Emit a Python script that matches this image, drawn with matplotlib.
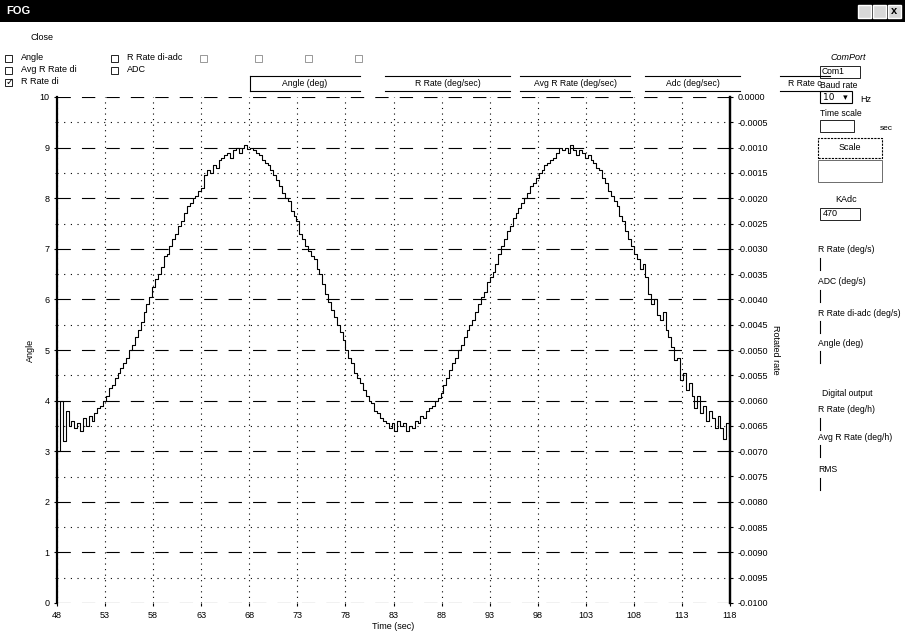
#!/usr/bin/env python3
"""
FOG angle trace - recreated screenshot of the acquisition window
"""
import numpy as np
import matplotlib
matplotlib.use("Agg")
import matplotlib.pyplot as plt
from matplotlib.patches import Rectangle

plt.rcParams['font.family'] = ['Liberation Sans', 'DejaVu Sans']

W, H = 905, 636

# Angle samples (deg), one every 0.3 s starting at t = 48 s
angle = [
    3.0, 4.0, 3.2, 3.8, 3.5, 3.6,
    3.45, 3.55, 3.4, 3.65, 3.5, 3.7, 3.6, 3.75, 3.85, 3.9,
    4.0, 4.1, 4.25, 4.3, 4.45, 4.55, 4.65, 4.75, 4.85, 5.0,
    5.1, 5.25, 5.4, 5.55, 5.75, 5.9, 6.05, 6.25, 6.4, 6.5,
    6.65, 6.85, 6.9, 7.05, 7.2, 7.3, 7.45, 7.55, 7.7, 7.85,
    7.9, 8.0, 8.05, 8.15, 8.2, 8.45, 8.55, 8.5, 8.65, 8.6,
    8.75, 8.8, 8.85, 8.9, 8.8, 8.95, 9.0, 8.9, 9.0, 9.05,
    8.98, 9.0, 8.95, 8.9, 8.85, 8.75, 8.7, 8.65, 8.55, 8.45,
    8.35, 8.25, 8.1, 8.0, 7.95, 7.75, 7.65, 7.55, 7.3, 7.2,
    7.05, 6.95, 6.85, 6.8, 6.6, 6.5, 6.3, 6.1, 5.95, 5.8,
    5.65, 5.5, 5.35, 5.2, 5.0, 4.85, 4.75, 4.55, 4.45, 4.35,
    4.2, 4.1, 4.0, 3.95, 3.8, 3.75, 3.65, 3.6, 3.55, 3.45,
    3.55, 3.4, 3.6, 3.5, 3.55, 3.4, 3.5, 3.45, 3.6, 3.55,
    3.7, 3.65, 3.8, 3.85, 3.9, 4.0, 4.05, 4.15, 4.3, 4.45,
    4.6, 4.75, 4.85, 5.0, 5.1, 5.25, 5.4, 5.5, 5.6, 5.75,
    5.9, 6.05, 6.15, 6.35, 6.45, 6.55, 6.7, 6.9, 7.05, 7.2,
    7.35, 7.45, 7.6, 7.7, 7.8, 7.9, 8.0, 8.1, 8.25, 8.3,
    8.4, 8.5, 8.55, 8.65, 8.7, 8.75, 8.8, 8.9, 9.0, 8.95,
    9.0, 8.9, 9.05, 8.95, 8.85, 8.95, 8.9, 8.8, 8.85, 8.75,
    8.7, 8.6, 8.55, 8.4, 8.3, 8.15, 8.05, 7.95, 7.85, 7.65,
    7.55, 7.35, 7.2, 7.05, 6.9, 6.8, 6.6, 6.7, 6.45, 6.1,
    5.9, 6.0, 5.7, 5.6, 5.75, 5.4, 5.25, 5.05, 4.8, 4.85,
    4.4, 4.55, 4.2, 4.35, 4.1, 3.85, 4.1, 3.75, 3.9, 3.6,
    3.8, 3.65, 3.45, 3.7, 3.45, 3.25, 3.55, 3.3,
]
t_start, t_step = 48.0, 0.3

x_ticks = [48, 53, 58, 63, 68, 73, 78, 83, 88, 93, 98, 103, 108, 113, 118]
angle_ticks = [0, 1, 2, 3, 4, 5, 6, 7, 8, 9, 10]
rate_ticks = [0.0, -0.0005, -0.0010, -0.0015, -0.0020, -0.0025, -0.0030,
              -0.0035, -0.0040, -0.0045, -0.0050, -0.0055, -0.0060, -0.0065,
              -0.0070, -0.0075, -0.0080, -0.0085, -0.0090, -0.0095, -0.0100]

check_labels = ["Angle", "R Rate di-adc", "Avg R Rate di", "ADC", "R Rate di"]
legend_labels = ["Angle (deg)", "R Rate (deg/sec)", "Avg R Rate (deg/sec)",
                 "Adc (deg/sec)", "R Rate c"]
panel_labels = ["R Rate (deg/s)", "ADC (deg/s)", "R Rate di-adc (deg/s)", "Angle (deg)"]
digital_labels = ["R Rate (deg/h)", "Avg R Rate (deg/h)", "RMS"]


def fx(x):
    return x / W


def fy(y):
    return 1 - y / H


fig = plt.figure(figsize=(W / 100, H / 100), dpi=100)
fig.patch.set_facecolor('white')

# --- title bar ---
fig.patches.append(Rectangle((0, fy(22)), 1, 22 / H, transform=fig.transFigure,
                             facecolor='black', edgecolor='none'))
fig.text(fx(6), fy(11), "FOG", color='white', fontsize=8, fontweight='bold', va='center')
for bx in [858, 873, 888]:
    fig.patches.append(Rectangle((fx(bx), fy(18)), 13 / W, 13 / H, transform=fig.transFigure,
                                 facecolor='#d8d8d8', edgecolor='white', lw=1))
fig.text(fx(894.5), fy(11.5), "x", fontsize=8, fontweight='bold', ha='center', va='center')

fig.text(fx(30), fy(38), "Close", fontsize=6.5, va='center')

# --- check boxes ---
check_pos = [(14, 58), (120, 58), (14, 70), (120, 70), (14, 82)]
for (cx, cy), lab in zip(check_pos, check_labels):
    fig.patches.append(Rectangle((fx(cx - 9), fy(cy + 4)), 7 / W, 7 / H, transform=fig.transFigure,
                                 facecolor='white', edgecolor='black', lw=0.6))
    fig.text(fx(cx + 7), fy(cy), lab, fontsize=6.5, va='center')
fig.text(fx(5.5), fy(82), "✓", fontsize=7, va='center', family=['DejaVu Sans'])
for cx in [200, 255, 305, 355]:
    fig.patches.append(Rectangle((fx(cx), fy(62)), 7 / W, 7 / H, transform=fig.transFigure,
                                 facecolor='white', edgecolor='#888888', lw=0.6))

# --- legend boxes above the plot ---
leg_pos = [(250, 360), (385, 510), (520, 630), (645, 740), (780, 830)]
for (x0, x1), lab in zip(leg_pos, legend_labels):
    fig.lines.append(plt.Line2D([fx(x0), fx(x1)], [fy(76), fy(76)], transform=fig.transFigure,
                                color='black', lw=0.8))
    fig.lines.append(plt.Line2D([fx(x0), fx(x1)], [fy(91), fy(91)], transform=fig.transFigure,
                                color='black', lw=0.8))
    fig.text(fx((x0 + x1) / 2), fy(84), lab, fontsize=6.2, ha='center', va='center')
fig.lines.append(plt.Line2D([fx(250), fx(250)], [fy(76), fy(91)], transform=fig.transFigure,
                            color='black', lw=0.8))

# --- main plot ---
ax = fig.add_axes([fx(57), fy(603), (730 - 57) / W, (603 - 97) / H])
time = t_start + t_step * np.arange(len(angle))
ax.plot(time, angle, color='black', lw=0.8, drawstyle='steps-post')
ax.set_xlim(48, 118)
ax.set_ylim(0, 10)
ax.set_xticks(x_ticks)
ax.set_yticks(angle_ticks)
ax.set_yticks(np.arange(0.5, 10, 0.5), minor=True)
ax.tick_params(axis='both', labelsize=6.5, length=2, width=0.8)
ax.tick_params(axis='y', which='minor', length=1.5)
ax.grid(True, which='major', axis='y', color='black', lw=0.8, ls=(0, (12, 10)))
ax.grid(True, which='minor', axis='y', color='black', lw=0.8, ls=(0, (1, 5)))
ax.grid(True, which='major', axis='x', color='black', lw=0.8, ls=(0, (1, 4)))
for side in ['top', 'bottom']:
    ax.spines[side].set_visible(False)
ax.spines['left'].set_linewidth(1.6)
ax.spines['right'].set_linewidth(1.6)
ax.set_xlabel("Time (sec)", fontsize=6.5, labelpad=2)
ax.set_ylabel("Angle", fontsize=6.5)
ax.yaxis.set_label_coords(-0.033, 0.5)

ax2 = ax.twinx()
ax2.set_ylim(-0.0100, 0.0)
ax2.set_yticks(rate_ticks)
ax2.set_yticklabels([f"{v:.4f}" if v != 0 else "0.0000" for v in rate_ticks])
ax2.tick_params(axis='y', labelsize=6.5, length=2, width=0.8)
for side in ['top', 'bottom', 'left']:
    ax2.spines[side].set_visible(False)
ax2.spines['right'].set_linewidth(1.6)
ax2.set_ylabel("Rotated rate", fontsize=6.5, rotation=270)
ax2.yaxis.set_label_coords(1.075, 0.5)

# --- right control panel ---
fig.text(fx(848), fy(58), "ComPort", fontsize=6.5, style='italic', ha='center', va='center')
fig.patches.append(Rectangle((fx(820), fy(78)), 40 / W, 12 / H, transform=fig.transFigure,
                             facecolor='white', edgecolor='black', lw=0.6))
fig.text(fx(822), fy(72), "Com1", fontsize=6.2, va='center')
fig.text(fx(820), fy(86), "Baud rate", fontsize=6.2, va='center')
fig.patches.append(Rectangle((fx(820), fy(103)), 32 / W, 12 / H, transform=fig.transFigure,
                             facecolor='white', edgecolor='black', lw=0.8))
fig.text(fx(823), fy(97), "10   ▾", fontsize=6.5, va='center', family=['DejaVu Sans'])
fig.text(fx(860), fy(100), "Hz", fontsize=6.5, va='center')
fig.text(fx(820), fy(113), "Time scale", fontsize=6.2, va='center')
fig.patches.append(Rectangle((fx(820), fy(132)), 34 / W, 12 / H, transform=fig.transFigure,
                             facecolor='white', edgecolor='black', lw=0.6))
fig.text(fx(880), fy(128), "sec", fontsize=6, va='center')
fig.patches.append(Rectangle((fx(818), fy(158)), 64 / W, 20 / H, transform=fig.transFigure,
                             facecolor='white', edgecolor='black', lw=0.8, ls=(0, (2, 1))))
fig.text(fx(850), fy(148), "Scale", fontsize=6.5, ha='center', va='center')
fig.patches.append(Rectangle((fx(818), fy(182)), 64 / W, 22 / H, transform=fig.transFigure,
                             facecolor='none', edgecolor='#555555', lw=0.6))
fig.text(fx(835), fy(200), "KAdc", fontsize=6.5, va='center')
fig.patches.append(Rectangle((fx(820), fy(220)), 40 / W, 12 / H, transform=fig.transFigure,
                             facecolor='white', edgecolor='black', lw=0.6))
fig.text(fx(823), fy(214), "470", fontsize=6.5, va='center')

panel_y = [250, 282, 313, 343]
for yy, lab in zip(panel_y, panel_labels):
    fig.text(fx(818), fy(yy), lab, fontsize=6.2, va='center')
    fig.lines.append(plt.Line2D([fx(820), fx(820)], [fy(yy + 8), fy(yy + 20)],
                                transform=fig.transFigure, color='black', lw=0.8))

fig.text(fx(822), fy(393), "Digital output", fontsize=6.2, va='center')
digital_y = [410, 437, 470]
for yy, lab in zip(digital_y, digital_labels):
    fig.text(fx(818), fy(yy), lab, fontsize=6.2, va='center')
    fig.lines.append(plt.Line2D([fx(820), fx(820)], [fy(yy + 8), fy(yy + 20)],
                                transform=fig.transFigure, color='black', lw=0.8))

fig.savefig("out.png", dpi=100)
